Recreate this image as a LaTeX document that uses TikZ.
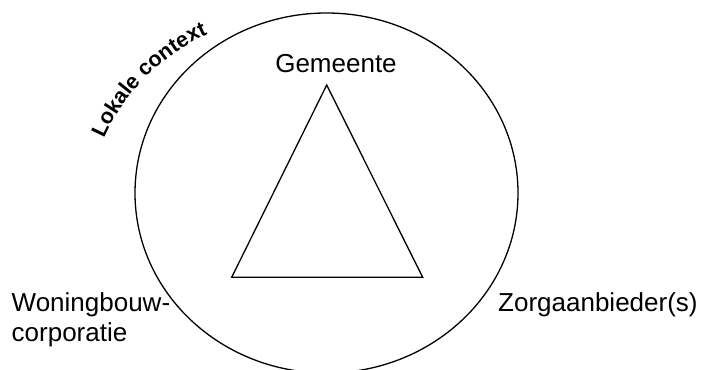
\documentclass[tikz,border=0pt]{standalone}
\usepackage{fontspec}
\setmainfont{Liberation Sans}
\usetikzlibrary{decorations.text}
\begin{document}
\begin{tikzpicture}[x=1pt,y=-1pt,
  lbl/.style={inner sep=0pt,font=\fontsize{26}{30}\selectfont},
  shapeline/.style={draw=black,line width=1.3pt,line join=miter}]
\useasboundingbox[fill=white] (0,0) rectangle (703,369);
% context circle (clipped at the bottom)
\begin{scope}
  \clip (0,0) rectangle (703,369);
  \draw[shapeline] (326.5pt,-193pt) ellipse [x radius=191.5pt, y radius=180pt];
\end{scope}
% triangle
\coordinate (apex) at (326.7,85);
\coordinate (bl) at (231.7,277.3);
\coordinate (br) at (422.7,277.3);
\draw[shapeline] (apex) -- (bl) -- (br) -- cycle;
% labels
\node[lbl,anchor=base] (gem) at (336,72) {Gemeente};
\node[lbl,anchor=base west] (zorg) at (498,311.7) {Zorgaanbieder(s)};
\node[lbl,anchor=base west] (won1) at (11.5,311.7) {Woningbouw-};
\node[lbl,anchor=base west] (won2) at (11.5,341.7) {corporatie};
% curved label
\coordinate (arcc) at (293,223);
\path[decorate,decoration={text along path,text align=left,
   text={|\fontsize{21.5}{24}\selectfont\bfseries|Lokale context}}]
  ([shift={(arcc)}]156:207pt) arc[start angle=156,end angle=105,radius=207pt];
\end{tikzpicture}
\end{document}
